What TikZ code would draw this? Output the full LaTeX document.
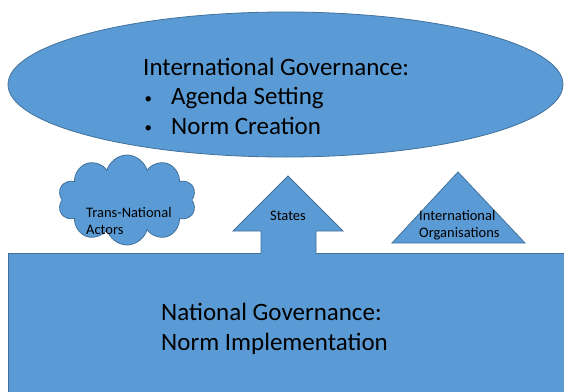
\documentclass[tikz,border=0pt]{standalone}
\usepackage{fontspec}
\setmainfont{Carlito}
\usetikzlibrary{shapes.symbols,positioning}
\definecolor{boxblue}{HTML}{5B9BD5}
\definecolor{edgeblue}{HTML}{41719C}
\newcommand{\smallbullet}{\makebox[28pt][l]{\hspace{1.5pt}\raisebox{1.5pt}{\fontsize{15}{15}\selectfont\textbullet}}}

\begin{document}
\begin{tikzpicture}[x=1pt,y=-1pt]

    % Styles
    \tikzset{
        blueshape/.style={fill=boxblue, draw=edgeblue, line width=0.8pt},
        bigtext/.style={font=\fontsize{25}{29.5}\selectfont, align=left, inner sep=0pt, text=black},
        smalltext/.style={font=\fontsize{14.5}{17.5}\selectfont, align=left, inner sep=0pt, text=black}
    }

    \useasboundingbox (0,0) rectangle (564,391);

    % Coordinates
    \coordinate (E) at (285.5,84.5);   % centre of the ellipse
    \coordinate (T) at (288,176);      % tip of the arrow
    \coordinate (P) at (458,172);      % top of the triangle

    % National governance block
    \draw[blueshape] (8,253) rectangle (570,400);

    % International governance ellipse
    \draw[blueshape] (E) ellipse [x radius=277.5, y radius=72.5];

    % Arrow (States)
    \fill[boxblue] (261,255) -- (261,231) -- (233,231) -- (T) -- (343,231) -- (316,231) -- (316,255) -- cycle;
    \draw[edgeblue, line width=0.8pt] (261,253) -- (261,231) -- (233,231) -- (T) -- (343,231) -- (316,231) -- (316,253);

    % Triangle (organisations)
    \draw[blueshape] (392,243) -- (P) -- (525,243) -- cycle;

    % Cloud (actors)
    \node[cloud, blueshape, cloud puffs=10, aspect=1.5, minimum width=138, minimum height=90, inner sep=0pt] (tna) at (127,200) {};

    % Labels
    \node[bigtext, anchor=west] (intlgov) at (143,96)
        {International Governance:\\
         \smallbullet Agenda Setting\\
         \smallbullet Norm Creation};
    \node[bigtext, anchor=west] (natgov) at (161,329)
        {National Governance:\\Norm Implementation};
    \node[smalltext, anchor=west] (tnatext) at (86,221) {Trans-National\\Actors};
    \node[smalltext] (states) at (288,216) {States};
    \node[smalltext, anchor=west] (io) at (419,225) {International\\Organisations};

\end{tikzpicture}
\end{document}
